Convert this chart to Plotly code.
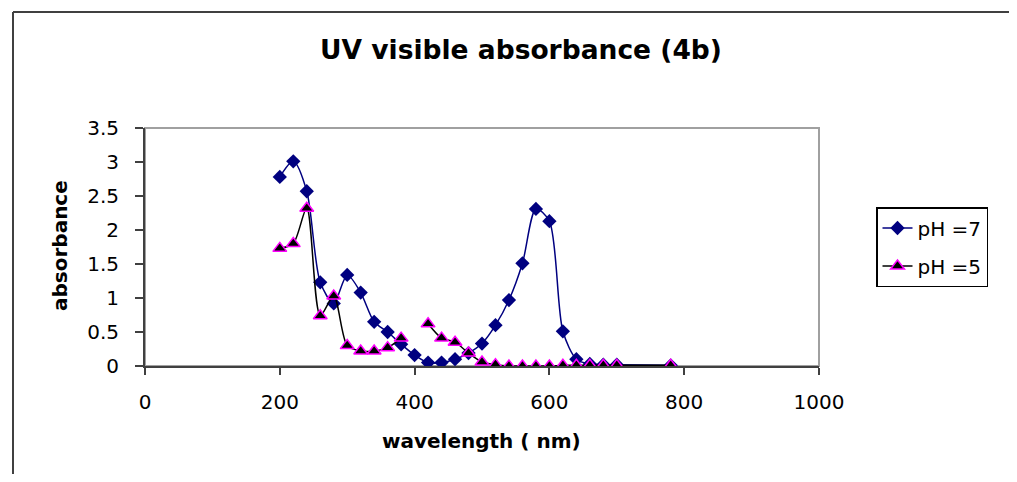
import plotly.graph_objects as go

wavelength = [200, 220, 240, 260, 280, 300, 320, 340, 360, 380, 400, 420, 440, 460,
              480, 500, 520, 540, 560, 580, 600, 620, 640, 660, 680, 700, 780]
ph7 = [2.78, 3.01, 2.57, 1.23, 0.92, 1.34, 1.08, 0.65, 0.50, 0.32, 0.16, 0.05, 0.05, 0.10,
       0.19, 0.33, 0.60, 0.97, 1.51, 2.31, 2.13, 0.51, 0.10, 0.03, 0.02, 0.02, 0.01]
ph5 = [1.73, 1.80, 2.32, 0.74, 1.03, 0.30, 0.22, 0.22, 0.27, 0.41, None, 0.62, 0.41, 0.35,
       0.19, 0.06, 0.02, 0.00, 0.00, 0.00, 0.00, 0.01, 0.01, 0.01, 0.01, 0.01, 0.01]

x_ticks = [0, 200, 400, 600, 800, 1000]
y_ticks = [0, 0.5, 1, 1.5, 2, 2.5, 3, 3.5]
y_tick_text = ["0", "0.5", "1", "1.5", "2", "2.5", "3", "3.5"]
series_names = ["pH =7", "pH =5"]

FONT = "DejaVu Sans"
OFF = 8  # page body margin
W, H = 1017 - 2 * OFF, 482 - 2 * OFF
# plot area in screen pixels
SL, SR, ST, SB = 145, 819, 128, 366
L, R, T, B = SL - OFF, SR - OFF, ST - OFF, SB - OFF

pw, ph = R - L, B - T
def px_x(sp):
    return (sp - OFF - L) / pw
def px_y(sp):
    return (B - (sp - OFF)) / ph

fig = go.Figure()
fig.add_trace(go.Scatter(
    x=wavelength, y=ph7, name=series_names[0], mode="lines+markers", legendgroup="a",
    line=dict(color="#000080", width=1.5, shape="spline", smoothing=0.8),
    marker=dict(symbol="diamond", size=11, color="#000080", line=dict(width=0)),
))
fig.add_trace(go.Scatter(
    x=wavelength, y=ph5, name=series_names[1], mode="lines+markers", connectgaps=False,
    legendgroup="b",
    line=dict(color="#000000", width=1.5, shape="spline", smoothing=0.8),
    marker=dict(symbol="triangle-up", size=12, color="#000000",
                line=dict(color="#FF00FF", width=1.5)),
))

fig.update_layout(
    width=W, height=H,
    margin=dict(l=L, r=W - R, t=T, b=H - B, autoexpand=False),
    paper_bgcolor="white", plot_bgcolor="white",
    font=dict(family=FONT, size=20, color="black"),
    title=dict(text="<b>UV visible absorbance (4b)</b>", x=(521 - OFF) / W, xanchor="center",
               y=1 - (50 - OFF) / H, yanchor="middle", yref="container",
               font=dict(family=FONT, size=26.5, color="black")),
    xaxis=dict(range=[0, 1000], tickvals=x_ticks, ticks="outside", ticklen=7,
               tickwidth=1.5, tickcolor="#404040", showline=True, linecolor="#404040",
               linewidth=2, showgrid=False, zeroline=False, ticklabelstandoff=10,
               tickfont=dict(family=FONT, size=20, color="black")),
    yaxis=dict(range=[0, 3.5], tickvals=y_ticks, ticktext=y_tick_text, ticks="outside",
               ticklen=8, tickwidth=1.5, tickcolor="#404040", showline=True,
               linecolor="#404040", linewidth=2, showgrid=False, zeroline=False,
               ticklabelstandoff=12,
               tickfont=dict(family=FONT, size=20, color="black")),
    legend=dict(x=px_x(876), y=px_y(207), xanchor="left", yanchor="top",
                bordercolor="#000000", borderwidth=1.5, bgcolor="white",
                tracegroupgap=9,
                font=dict(family=FONT, size=20, color="black")),
    showlegend=True,
)

# plot-area frame (grey) and outer chart frame (top + left edges)
fig.add_shape(type="rect", xref="paper", yref="paper", x0=0, x1=1, y0=0, y1=1,
              line=dict(color="#a0a0a0", width=2), layer="below")
fig.add_shape(type="line", xref="paper", yref="paper",
              x0=px_x(13), x1=px_x(1080), y0=px_y(12), y1=px_y(12),
              line=dict(color="#404040", width=2), layer="below")
fig.add_shape(type="line", xref="paper", yref="paper",
              x0=px_x(13), x1=px_x(13), y0=px_y(12), y1=px_y(540),
              line=dict(color="#404040", width=2), layer="below")

fig.add_annotation(text="<b>wavelength ( nm)</b>", xref="paper", yref="paper",
                   x=px_x(481), y=px_y(441), xanchor="center", yanchor="middle",
                   showarrow=False, font=dict(family=FONT, size=20, color="black"))
fig.add_annotation(text="<b>absorbance</b>", xref="paper", yref="paper",
                   x=px_x(60), y=px_y(246), xanchor="center", yanchor="middle",
                   showarrow=False, textangle=-90,
                   font=dict(family=FONT, size=20, color="black"))

fig.write_html("out.html")
